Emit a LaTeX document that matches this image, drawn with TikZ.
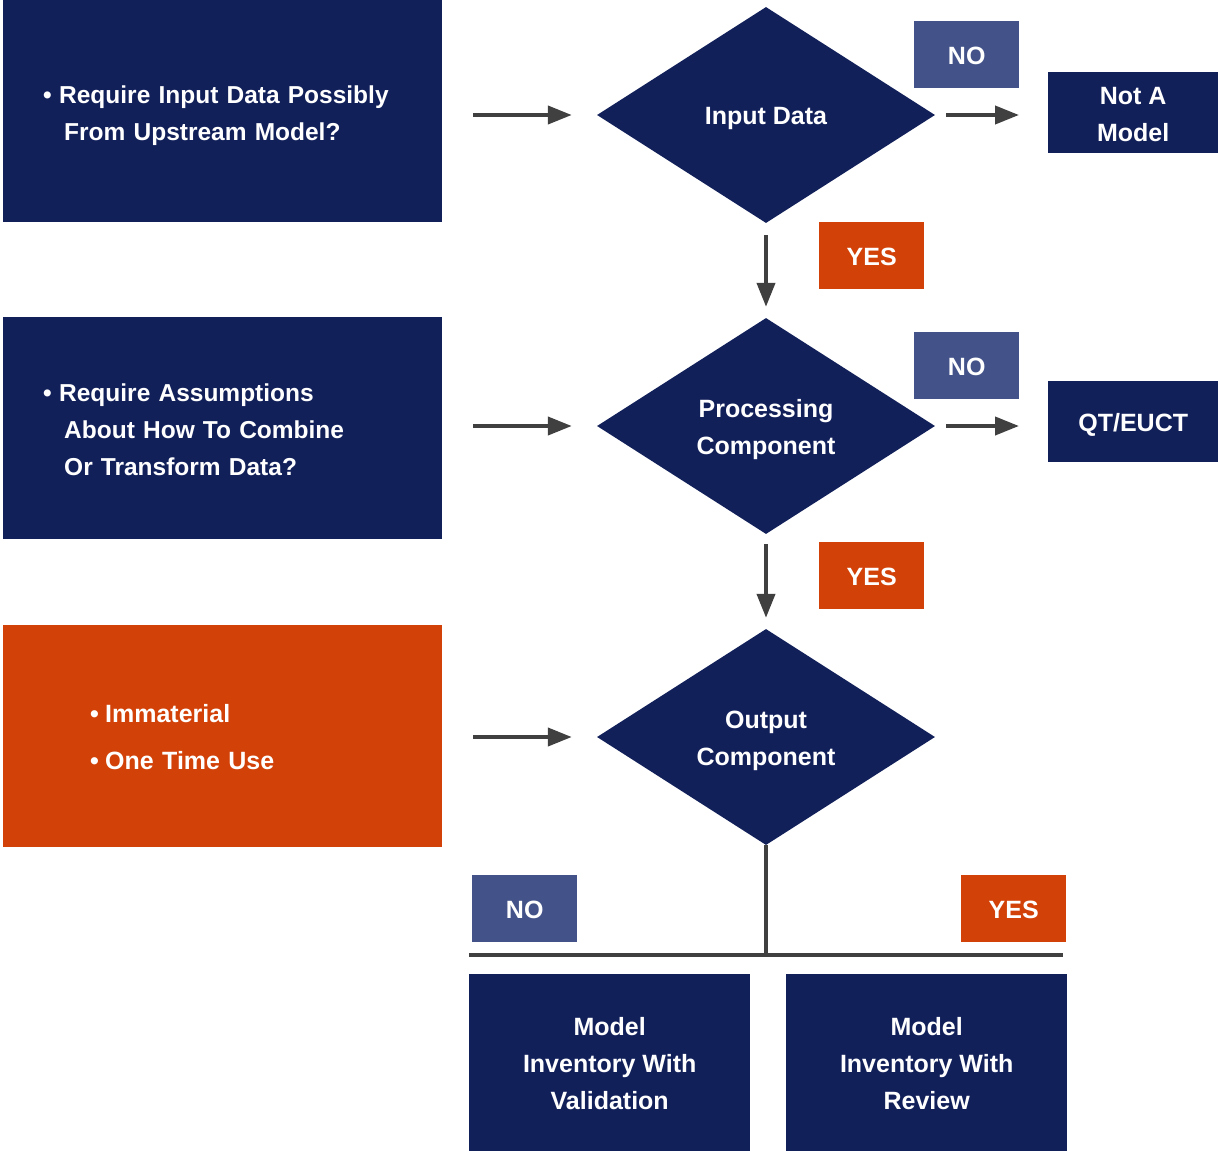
\documentclass[tikz,border=0pt]{standalone}
\usepackage{fontspec}
\setmainfont{Liberation Sans}
\usetikzlibrary{shapes.geometric,arrows.meta}
\definecolor{navy}{HTML}{12205A}
\definecolor{orng}{HTML}{D24108}
\definecolor{nob}{HTML}{43538A}
\definecolor{arrc}{HTML}{404040}
\newcommand{\stk}[3]{\raisebox{-#2}[\height][\depth]{\begin{tabular}{@{}#1@{}}#3\end{tabular}}}
\begin{document}
\begin{tikzpicture}[x=1pt,y=-1pt,
  every node/.style={font=\fontsize{25}{37}\selectfont\bfseries, text=white},
  sidebox/.style={fill=navy, inner ysep=0pt, inner xsep=40pt, text width=359pt, align=left, minimum height=222pt, anchor=north west, font=\fontsize{24.5}{37}\selectfont\bfseries},
  resbox/.style={fill=navy, inner sep=0pt, align=center, anchor=north west},
  dia/.style={diamond, fill=navy, minimum width=338pt, minimum height=216pt, inner sep=0pt, align=center},
  lbl/.style={minimum width=105pt, minimum height=67pt, inner sep=0pt, anchor=north west},
  nolbl/.style={lbl, fill=nob},
  yeslbl/.style={lbl, fill=orng},
  conn/.style={draw=arrc, line width=4pt, -{Triangle[length=24pt,width=18pt]}},
  bar/.style={draw=arrc, line width=4.5pt}
]
\useasboundingbox (0,0) rectangle (1218,1151);

% left boxes
\node[sidebox] (b1) at (3,0) {\stk{l}{3pt}{\makebox[16pt][l]{•}Require Input Data Possibly\\\hspace*{21pt}From Upstream Model?}};
\node[sidebox] (b2) at (3,317) {\stk{l}{3pt}{\makebox[16pt][l]{•}Require Assumptions\\\hspace*{21pt}About How To Combine\\\hspace*{21pt}Or Transform Data?}};
\node[sidebox, fill=orng, inner xsep=87pt, text width=265pt, font=\fontsize{25}{47}\selectfont\bfseries] (b3) at (3,625) {\stk{l}{0pt}{\makebox[15pt][l]{•}Immaterial\\\makebox[15pt][l]{•}One Time Use}};

% diamonds
\node[dia] (d1) at (766,115) {\stk{c}{2pt}{Input Data}};
\node[dia] (d2) at (766,426) {\stk{c}{3pt}{Processing\\Component}};
\node[dia] (d3) at (766,737) {\stk{c}{3pt}{Output\\Component}};

% right result boxes
\node[resbox, minimum width=170pt, minimum height=81pt] (r1) at (1048,72) {\stk{c}{3pt}{Not A\\Model}};
\node[resbox, minimum width=170pt, minimum height=81pt] (r2) at (1048,381) {\stk{c}{2pt}{QT/EUCT}};

% bottom boxes
\node[resbox, minimum width=281pt, minimum height=177pt] (m1) at (469,974) {\stk{c}{2pt}{Model\\Inventory With\\Validation}};
\node[resbox, minimum width=281pt, minimum height=177pt] (m2) at (786,974) {\stk{c}{2pt}{Model\\Inventory With\\Review}};

% labels
\node[nolbl] (n1) at (914,21) {\stk{c}{2pt}{NO}};
\node[nolbl] (n2) at (914,332) {\stk{c}{2pt}{NO}};
\node[nolbl] (n3) at (472,875) {\stk{c}{2pt}{NO}};
\node[yeslbl] (y1) at (819,222) {\stk{c}{2pt}{YES}};
\node[yeslbl] (y2) at (819,542) {\stk{c}{2pt}{YES}};
\node[yeslbl] (y3) at (961,875) {\stk{c}{2pt}{YES}};

% connectors
\draw[conn, shorten <=31pt, shorten >=25pt] (b1.east |- d1.west) -- (d1.west);
\draw[conn, shorten <=31pt, shorten >=25pt] (b2.east |- d2.west) -- (d2.west);
\draw[conn, shorten <=31pt, shorten >=25pt] (b3.east |- d3.west) -- (d3.west);
\draw[conn, shorten <=12pt, shorten >=11pt] (d1.south) -- (d2.north);
\draw[conn, shorten <=10pt, shorten >=11pt] (d2.south) -- (d3.north);
\draw[conn, shorten <=11pt, shorten >=29pt] (d1.east) -- (r1.west |- d1.east);
\draw[conn, shorten <=11pt, shorten >=29pt] (d2.east) -- (r2.west |- d2.east);

\coordinate (j) at (766,955);
\coordinate (hl) at (469,955);
\coordinate (hr) at (1063,955);
\draw[bar] (d3.south) -- (j);
\draw[bar] (hl) -- (hr);
\end{tikzpicture}
\end{document}
